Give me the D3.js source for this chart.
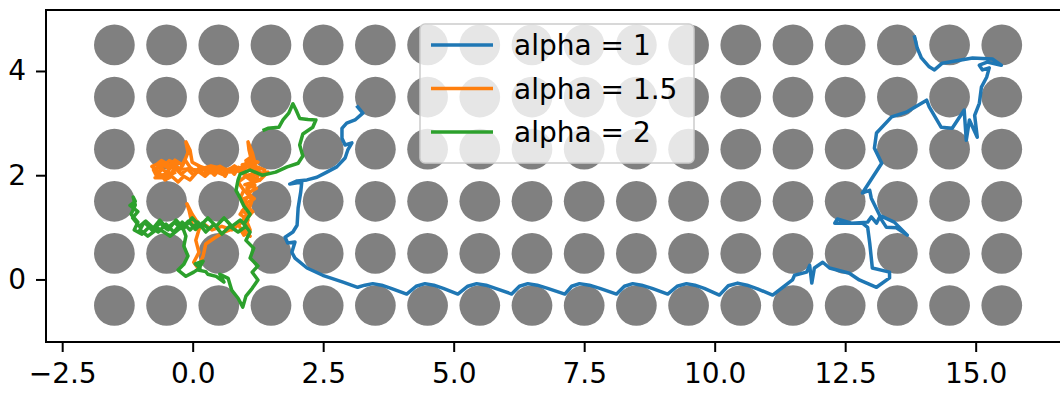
<!DOCTYPE html>
<html>
<head>
<meta charset="utf-8">
<script src="https://cdn.jsdelivr.net/npm/d3@7"></script>
<style>
  html, body { margin: 0; padding: 0; background: #fff; }
  svg { display: block; }
  text { font-family: "DejaVu Sans", sans-serif; }
</style>
</head>
<body>
<svg id="chart" width="1060" height="393"></svg>
<script>
// Obstacle grid: circle centres along x and y
const gridX = [-1.5, -0.5, 0.5, 1.5, 2.5, 3.5, 4.5, 5.5, 6.5, 7.5, 8.5, 9.5, 10.5, 11.5, 12.5, 13.5, 14.5, 15.5];
const gridY = [-0.5, 0.5, 1.5, 2.5, 3.5, 4.5];
const circleRadius = 0.39;

const xTicks = [-2.5, 0, 2.5, 5, 7.5, 10, 12.5, 15];
const yTicks = [0, 2, 4];

const seriesNames = ["alpha = 1", "alpha = 1.5", "alpha = 2"];
const seriesColors = ["#1f77b4", "#ff7f0e", "#2ca02c"];

// Walk traces, [x, y] in data units
const walkAlpha1 = [
  [3.16,3.31],[3.26,3.19],[3.11,3.06],[2.95,3.00],[2.86,2.90],[2.86,2.71],[2.92,2.58],[3.05,2.62],
  [2.97,2.48],[2.92,2.33],[2.76,2.16],[2.57,2.06],[2.38,1.96],[2.19,1.91],[2.00,1.89],[1.86,1.83],
  [2.09,1.87],[2.07,1.68],[2.02,1.37],[2.00,1.04],[1.92,0.91],[1.77,0.81],[1.82,0.70],[1.96,0.72],
  [1.90,0.52],[1.96,0.41],[2.19,0.22],[2.49,0.08],[2.88,-0.05],[3.16,-0.15],
  [3.30,-0.11],[3.45,-0.08],[3.62,-0.11],[3.80,-0.17],[4.10,-0.28],
  [4.28,-0.13],[4.45,-0.08],[4.62,-0.11],[4.80,-0.17],[5.08,-0.28],
  [5.27,-0.13],[5.44,-0.08],[5.62,-0.11],[5.80,-0.17],[6.11,-0.28],
  [6.26,-0.13],[6.42,-0.08],[6.60,-0.11],[6.80,-0.17],[7.13,-0.28],
  [7.26,-0.13],[7.41,-0.08],[7.60,-0.11],[7.80,-0.17],[8.12,-0.28],
  [8.27,-0.13],[8.43,-0.08],[8.60,-0.11],[8.80,-0.17],[9.10,-0.28],
  [9.28,-0.13],[9.46,-0.08],[9.62,-0.11],[9.80,-0.17],[10.09,-0.30],
  [10.26,-0.12],[10.44,-0.07],[10.62,-0.11],[10.82,-0.18],[11.11,-0.30],
  [11.49,-0.01],[11.53,0.08],[11.76,0.14],[11.82,0.27],[11.86,-0.07],[11.91,0.22],[12.07,0.33],[12.20,0.22],
  [12.58,0.12],[12.77,-0.01],[13.10,-0.15],[13.35,0.03],[13.35,0.14],[13.02,0.22],[12.97,0.70],[12.93,1.00],
  [12.83,1.08],[12.30,1.08],[12.35,1.16],[12.62,1.08],[12.93,1.10],[13.00,1.20],[13.10,1.08],[13.16,1.20],
  [13.29,1.00],[13.48,0.99],[13.69,0.85],[13.44,1.10],[13.16,1.23],[13.00,1.56],[12.97,1.71],[12.83,1.66],
  [13.20,2.23],[13.06,2.52],[13.10,2.81],[13.39,3.12],[13.67,3.21],[14.06,3.44],[14.11,3.31],[14.34,2.92],
  [14.55,2.90],[14.78,3.25],[14.82,2.67],[14.88,3.06],[15.03,2.73],[14.98,3.15],[15.07,3.38],[15.11,3.69],
  [15.21,3.88],[15.26,4.06],[15.13,4.02],[15.07,4.11],[15.22,4.17],[15.49,4.11],[15.32,4.23],[14.94,4.25],
  [14.36,4.15],[14.21,4.02],[14.11,4.08],[13.96,4.25],[13.88,4.44],[13.83,4.65]
];

const walkAlpha15 = [
  [0.96,1.48],[1.10,1.62],[1.04,1.75],[1.19,1.81],[1.10,1.94],[1.25,2.06],[1.15,2.19],[1.08,2.48],
  [1.06,2.64],[1.14,2.44],[1.21,2.17],[1.38,2.10],[1.33,1.98],[1.44,2.06],[1.29,1.91],[1.14,1.94],
  [0.91,2.06],[0.75,2.14],[0.56,2.02],[0.37,2.10],[0.24,1.98],[0.10,2.08],[-0.05,1.91],[-0.17,1.98],
  [-0.28,1.87],[-0.40,1.98],[-0.53,1.91],[-0.66,2.06],[-0.78,2.17],[-0.63,2.23],[-0.47,2.14],[-0.34,2.29],
  [-0.19,2.19],[-0.09,2.44],[-0.13,2.64],[-0.05,2.48],[-0.01,2.25],[0.14,2.17],[0.33,2.10],[0.52,2.17],
  [0.71,2.06],[0.91,2.14],[1.02,1.98],[0.87,1.87],[0.98,1.71],[0.91,1.56],[1.02,1.41],[0.91,1.25],
  [1.06,1.14],[0.98,0.95],[1.10,0.83],[0.96,0.91],[0.87,1.06],[0.75,0.95],[0.56,1.02],[0.37,0.95],
  [0.22,1.06],[0.10,0.95],[-0.01,1.06],[-0.07,1.33],[-0.11,1.45],[-0.01,1.25],[0.14,1.02],[0.06,0.75],
  [0.12,0.52],[0.02,0.33],[0.10,0.22],[0.20,0.45],[0.25,0.68],[0.41,0.79],[0.60,0.91],[0.79,0.98],
  [0.94,1.10],[1.06,1.29],[1.14,1.52],[1.02,1.68],[1.17,1.87],
  [1.05,1.95],[1.20,2.02],[1.12,2.12],[1.00,2.05],[0.88,2.15],[0.80,2.02],[0.70,2.12],[0.62,1.98],
  [0.50,2.10],[0.42,2.00],[0.30,2.13],[0.20,2.02],[0.12,2.14],[0.02,2.00],[-0.10,2.12],[-0.22,2.02],
  [-0.32,2.12],[-0.45,2.00],[-0.58,2.12],[-0.70,2.00],[-0.75,2.10],[-0.62,2.15],[-0.50,2.05],[-0.38,2.20],
  [-0.25,2.08],[-0.15,2.30],[-0.05,2.15],[0.08,2.05],[0.20,2.12],[0.35,2.05],[0.50,2.15],[0.65,2.08],
  [0.80,2.18],[0.95,2.08],[1.08,2.20],[1.12,2.35],[1.02,2.28],[1.10,2.10],[1.25,1.98],[1.15,1.85],
  [1.05,1.72],[1.12,1.60],[0.98,1.55],[1.05,1.42],[0.95,1.32],[1.08,1.22],[0.98,1.12],[1.05,1.00],
  [0.92,0.95],[0.98,0.85],
  [1.10,0.95],[1.02,1.15],[1.15,1.30],[1.00,1.45],[1.18,1.55],[1.05,1.65],[1.22,1.75],[1.00,1.82],
  [1.28,1.90],[1.05,2.00],[1.30,2.05],[1.18,2.15],[0.95,2.20],[1.25,2.25],[1.10,2.30],[0.85,2.08],
  [0.60,2.12],[0.35,2.18],[0.10,2.10],[-0.20,2.12],[-0.45,2.20],[-0.60,2.28],[-0.70,2.20],[-0.55,2.18],
  [-0.45,2.28],[-0.30,2.22],[-0.40,2.05],[-0.60,2.00],[-0.72,1.95],[-0.55,1.95],[-0.35,2.05]
];

const walkAlpha2 = [
  [0.30,0.98],[0.18,1.08],[0.05,0.96],[-0.08,1.12],[-0.22,0.98],[-0.35,1.10],[-0.50,0.97],[-0.62,1.08],
  [-0.75,0.98],[-0.90,1.12],[-1.02,1.02],[-1.15,1.18],[-1.05,1.30],[-1.20,1.42],[-1.10,1.50],
  [-1.14,1.58],[-1.10,1.43],[-1.18,1.25],[-1.05,1.10],[-1.12,0.95],[-0.97,0.87],[-0.82,1.02],[-0.66,0.91],
  [-0.51,1.06],[-0.36,0.91],[-0.20,1.10],[-0.05,0.95],[0.10,1.10],[0.25,0.91],[0.41,1.06],[0.56,0.87],
  [0.71,1.02],[0.87,0.91],[1.02,1.02],[0.91,1.14],[0.75,1.02],[0.60,1.18],[0.45,1.02],[0.29,1.18],
  [0.14,1.02],[-0.01,1.18],[-0.17,0.98],[-0.32,1.14],[-0.47,0.95],[-0.63,1.14],[-0.78,0.95],[-0.93,1.10],
  [-1.01,0.95],[-0.86,0.83],[-0.66,0.98],[-0.43,0.83],[-0.20,1.02],[-0.13,0.83],[-0.17,0.64],[-0.09,0.45],
  [-0.17,0.29],[-0.28,0.18],[-0.13,0.06],[0.02,0.14],[0.14,0.22],[0.05,0.30],[0.20,0.35],[0.10,0.18],
  [0.25,0.15],[0.29,0.10],[0.45,0.06],[0.60,-0.05],[0.52,0.10],[0.68,0.02],
  [0.75,-0.21],[0.87,-0.36],[0.96,-0.53],[1.02,-0.32],[1.14,-0.17],[1.25,-0.01],[1.14,0.14],[1.25,0.26],
  [1.10,0.41],[1.17,0.60],[1.02,0.75],[1.10,0.91],[0.98,1.06],[1.10,1.25],[0.98,1.41],[0.91,1.56],
  [0.83,1.71],[0.87,1.91],[0.91,2.02],[1.10,2.10],[1.33,2.00],[1.59,2.06],[1.81,2.16],[2.02,2.23],
  [2.11,2.37],[2.05,2.58],[2.11,2.79],[2.30,2.92],[2.36,3.06],[2.21,3.07],[2.05,3.09],[1.98,3.25],
  [1.92,3.37],[1.84,3.19],[1.73,3.06],[1.65,2.92],[1.44,2.90],[1.37,2.87]
];

const walks = [walkAlpha1, walkAlpha15, walkAlpha2];

// ---- layout ----
const svg = d3.select("#chart");
const plotLeft = 46, plotTop = 10, plotBottom = 342;
const xDomain = [-2.81, 16.81];
const yDomain = [-1.2, 5.17];
const unitPx = 52.2;
const plotRight = plotLeft + (xDomain[1] - xDomain[0]) * unitPx;

const x = d3.scaleLinear().domain(xDomain).range([plotLeft, plotRight]);
const y = d3.scaleLinear().domain(yDomain).range([plotBottom, plotTop]);

// obstacles
const cells = gridY.flatMap(cy => gridX.map(cx => ({cx, cy})));
svg.append("g")
  .selectAll("circle")
  .data(cells)
  .join("circle")
  .attr("cx", d => x(d.cx))
  .attr("cy", d => y(d.cy))
  .attr("r", x(circleRadius) - x(0))
  .attr("fill", "#808080");

// walks
const line = d3.line().x(d => x(d[0])).y(d => y(d[1]));
svg.append("g")
  .selectAll("path")
  .data(walks)
  .join("path")
  .attr("d", line)
  .attr("fill", "none")
  .attr("stroke", (d, i) => seriesColors[i])
  .attr("stroke-width", 3.5)
  .attr("stroke-linejoin", "round")
  .attr("stroke-linecap", "square");

// frame
svg.append("rect")
  .attr("x", plotLeft).attr("y", plotTop)
  .attr("width", plotRight - plotLeft).attr("height", plotBottom - plotTop)
  .attr("fill", "none").attr("stroke", "#000").attr("stroke-width", 2);

// axes
const fmtX = d => d3.format(".1f")(d).replace("-", "\u2212");
const xAxis = d3.axisBottom(x).tickValues(xTicks).tickFormat(fmtX).tickSize(10).tickPadding(11);
const yAxis = d3.axisLeft(y).tickValues(yTicks).tickFormat(d3.format("d")).tickSize(10).tickPadding(10);

const gx = svg.append("g").attr("transform", `translate(0,${plotBottom})`).call(xAxis);
const gy = svg.append("g").attr("transform", `translate(${plotLeft},0)`).call(yAxis);
[gx, gy].forEach(g => {
  g.select(".domain").remove();
  g.selectAll(".tick line").attr("stroke", "#000").attr("stroke-width", 2);
  g.selectAll(".tick text").attr("fill", "#000").style("font-size", "28px")
    .style("font-family", "'DejaVu Sans', sans-serif");
});

// legend
const legend = svg.append("g").attr("transform", "translate(420,24)");
legend.append("rect")
  .attr("width", 274).attr("height", 139)
  .attr("rx", 5).attr("ry", 5)
  .attr("fill", "#fff").attr("fill-opacity", 0.8)
  .attr("stroke", "#cccccc").attr("stroke-width", 1.5);
const rows = legend.selectAll("g.row")
  .data(seriesNames)
  .join("g")
  .attr("class", "row")
  .attr("transform", (d, i) => `translate(0,${21 + i * 43.5})`);
rows.append("line")
  .attr("x1", 11).attr("x2", 73)
  .attr("stroke", (d, i) => seriesColors[i])
  .attr("stroke-width", 3.5);
rows.append("text")
  .attr("x", 94).attr("dy", "0.36em")
  .style("font-size", "28px")
  .attr("fill", "#000")
  .text(d => d);
</script>
</body>
</html>
